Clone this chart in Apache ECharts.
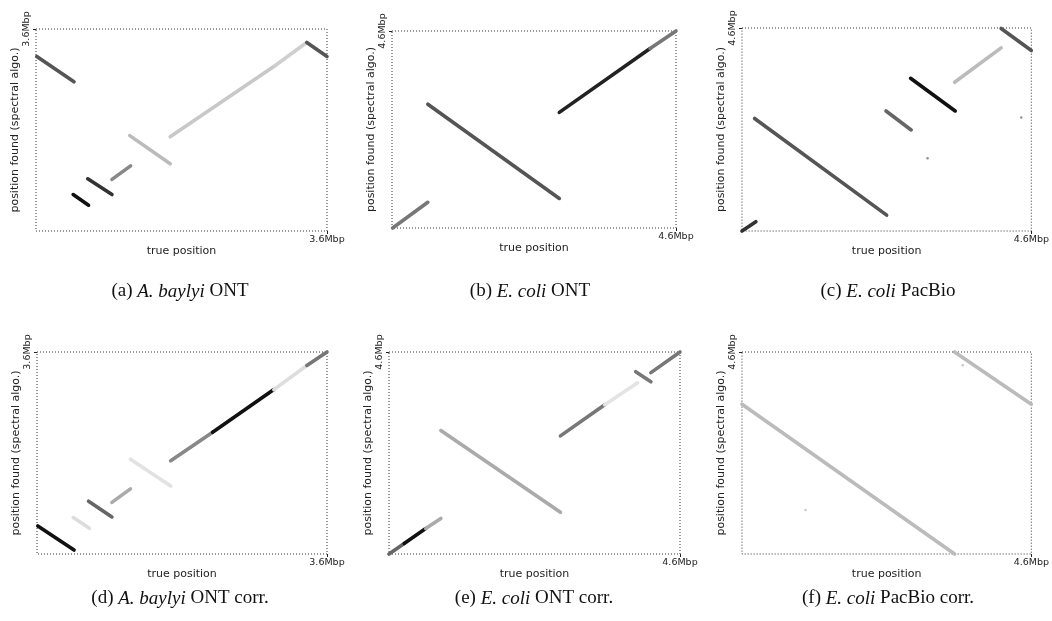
<!DOCTYPE html>
<html>
<head>
<meta charset="utf-8">
<script src="https://cdn.jsdelivr.net/npm/echarts@6/dist/echarts.min.js"></script>
<style>
html,body{margin:0;padding:0;background:#fff;}
#chart{width:1052px;height:621px;}
</style>
</head>
<body>
<div id="chart"></div>
<script>
// ---------- data (Mbp) ----------
const axisMax = [3.6, 4.6, 4.6, 3.6, 4.6, 4.6];
const tickLabels = ['3.6Mbp', '4.6Mbp', '4.6Mbp', '3.6Mbp', '4.6Mbp', '4.6Mbp'];
const xAxisName = 'true position';
const yAxisName = 'position found (spectral algo.)';
const captionTag = ['(a)', '(b)', '(c)', '(d)', '(e)', '(f)'];
const captionSpecies = ['A. baylyi', 'E. coli', 'E. coli', 'A. baylyi', 'E. coli', 'E. coli'];
const captionTail = ['ONT', 'ONT', 'PacBio', 'ONT corr.', 'ONT corr.', 'PacBio corr.'];

// segments: [xStart, yStart, xEnd, yEnd]
const segmentsA = [[0.01,3.11,0.47,2.66],[0.46,0.65,0.65,0.46],[0.64,0.93,0.94,0.65],[0.94,0.92,1.17,1.16],[1.16,1.70,1.66,1.20],[1.66,1.68,2.96,2.95],[2.96,2.95,3.34,3.35],[3.35,3.36,3.60,3.11]];
const segmentsB = [[0.01,0.00,0.58,0.60],[0.58,2.89,2.71,0.69],[2.71,2.70,4.18,4.19],[4.18,4.19,4.60,4.60]];
const segmentsC = [[0.00,0.00,0.22,0.21],[0.20,2.55,2.30,0.36],[2.29,2.72,2.69,2.29],[2.68,3.46,3.39,2.72],[3.38,3.37,4.12,4.15],[4.12,4.59,4.60,4.09]];
const pointsC = [[2.95,1.65],[4.44,2.57]];
const segmentsD = [[0.01,0.50,0.46,0.07],[0.45,0.65,0.65,0.46],[0.64,0.94,0.93,0.66],[0.93,0.92,1.16,1.16],[1.16,1.69,1.66,1.21],[1.66,1.66,2.18,2.17],[2.18,2.17,2.94,2.93],[2.94,2.93,3.35,3.36],[3.35,3.36,3.60,3.60]];
const segmentsE = [[0.00,0.00,0.24,0.24],[0.24,0.24,0.58,0.58],[0.58,0.58,0.82,0.81],[0.82,2.81,2.71,0.95],[2.71,2.69,3.41,3.40],[3.41,3.40,3.93,3.90],[3.90,4.15,4.14,3.92],[4.14,4.13,4.60,4.60]];
const segmentsF = [[0.00,3.41,3.38,0.00],[3.38,4.60,4.60,3.41]];
const pointsF = [[1.01,1.00],[3.51,4.30]];

// grey shade of each segment (style)
const shadesA = ['#555','#111','#333','#888','#bbb','#c8c8c8','#cfcfcf','#555'];
const shadesB = ['#777','#555','#222','#777'];
const shadesC = ['#333','#555','#666','#111','#bbb','#555'];
const shadesD = ['#111','#ddd','#666','#aaa','#e2e2e2','#888','#111','#ddd','#777'];
const shadesE = ['#666','#111','#aaa','#aaa','#777','#e4e4e4','#777','#777'];
const shadesF = ['#bbb','#bbb'];

const panelSegments = [segmentsA, segmentsB, segmentsC, segmentsD, segmentsE, segmentsF];
const panelShades = [shadesA, shadesB, shadesC, shadesD, shadesE, shadesF];
const panelPoints = [[], [], pointsC, [], [], pointsF];
const pointShade = ['#777','#777','#777','#777','#777','#bbb'];

// ---------- layout ----------
const grids = [
  {left: 36, top: 29, width: 291, height: 202},
  {left: 392, top: 31, width: 284, height: 197},
  {left: 742, top: 28, width: 291, height: 203},
  {left: 37, top: 352, width: 290, height: 202},
  {left: 389, top: 352, width: 291, height: 202},
  {left: 742, top: 352, width: 291, height: 202}
];
const captionPos = [[180, 282], [530, 282], [888, 282], [180, 589], [534, 589], [888, 589]];

const sans = 'DejaVu Sans';
const textColor = '#222';

const option = {
  animation: false,
  backgroundColor: '#fff',
  grid: grids.map(g => Object.assign({
    show: true, borderColor: '#333', borderWidth: 1, borderType: [1, 2], containLabel: false
  }, g)),
  title: captionPos.map((p, i) => ({
    text: captionTag[i] + ' {i|' + captionSpecies[i] + '} ' + captionTail[i],
    left: p[0], top: p[1], textAlign: 'center', padding: 0,
    textStyle: {
      fontFamily: 'Liberation Serif', fontSize: 19, fontWeight: 'normal', color: '#111',
      rich: {i: {fontFamily: 'Liberation Serif', fontSize: 19, fontStyle: 'italic', color: '#111'}}
    }
  })),
  xAxis: axisMax.map((m, i) => ({
    type: 'value', gridIndex: i, min: 0, max: m,
    name: xAxisName, nameLocation: 'middle', nameGap: 13,
    nameTextStyle: {fontFamily: sans, fontSize: 11, color: textColor},
    axisLine: {show: false},
    axisTick: {show: true, customValues: [m], length: 3, lineStyle: {color: '#222'}},
    axisLabel: {show: true, customValues: [m], margin: 4, fontFamily: sans, fontSize: 9.5, color: textColor,
      formatter: () => tickLabels[i]},
    splitLine: {show: false}
  })),
  yAxis: axisMax.map((m, i) => ({
    type: 'value', gridIndex: i, min: 0, max: m,
    name: yAxisName, nameLocation: 'middle', nameGap: 14,
    nameTextStyle: {fontFamily: sans, fontSize: 11, color: textColor},
    axisLine: {show: false},
    axisTick: {show: true, customValues: [m], length: 3, lineStyle: {color: '#222'}},
    axisLabel: {show: true, customValues: [m], margin: 4, rotate: 90, fontFamily: sans, fontSize: 9.5, color: textColor,
      formatter: () => tickLabels[i]},
    splitLine: {show: false}
  })),
  series: []
};

panelSegments.forEach((segs, i) => {
  segs.forEach((s, k) => {
    option.series.push({
      type: 'line', xAxisIndex: i, yAxisIndex: i, silent: true,
      symbol: 'none', clip: false,
      data: [[s[0], s[1]], [s[2], s[3]]],
      lineStyle: {color: panelShades[i][k], width: 3.6, cap: 'round'}
    });
  });
  if (panelPoints[i].length) {
    option.series.push({
      type: 'scatter', xAxisIndex: i, yAxisIndex: i, silent: true,
      symbol: 'circle', symbolSize: 2.5,
      itemStyle: {color: pointShade[i]},
      data: panelPoints[i]
    });
  }
});

const chart = echarts.init(document.getElementById('chart'), null, {renderer: 'canvas'});
chart.setOption(option);
</script>
</body>
</html>
